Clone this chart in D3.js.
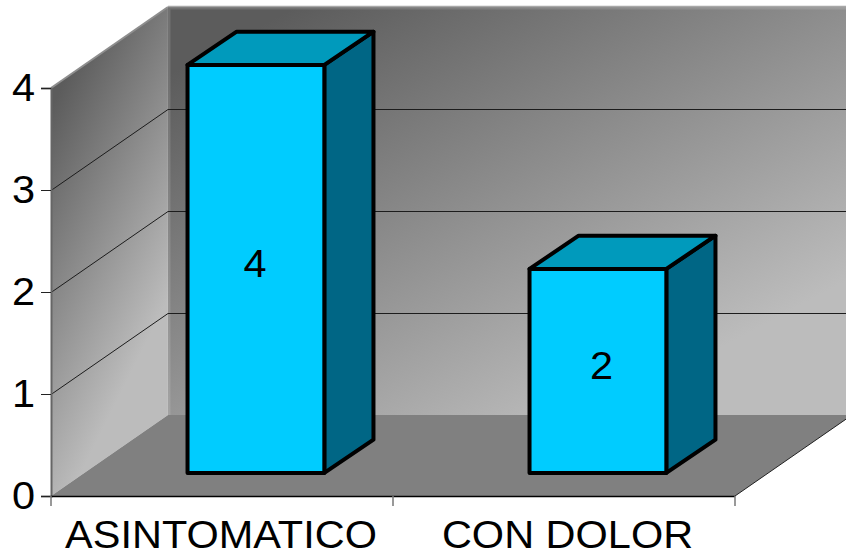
<!DOCTYPE html>
<html>
<head>
<meta charset="utf-8">
<script src="https://cdn.jsdelivr.net/npm/d3@7"></script>
<style>
html,body{margin:0;padding:0;background:#fff;overflow:hidden}
svg{display:block}
text{font-family:"Liberation Sans",Arial,sans-serif;fill:#000}
</style>
</head>
<body>
<svg id="chart" width="846" height="560"></svg>
<script>
const categories = ["ASINTOMATICO", "CON DOLOR"];
const values = [4, 2];
const yTicks = [0, 1, 2, 3, 4];

const svg = d3.select("#chart");
const width = 846, height = 560;

// Front plane of the 3D box and the shift applied to reach its back plane
const plotLeft = 51, plotRight = 735, plotBottom = 496, plotTop = 88;
const depthX = 117, depthY = -81;

const x = d3.scaleBand().domain(categories).range([plotLeft, plotRight]).paddingInner(0).paddingOuter(0);
const y = d3.scaleLinear().domain([0, 4]).range([plotBottom, plotTop]);
const depth = d3.scaleLinear().domain([0, 1]).range([0, 1]);
const barWidthShare = 0.4;
const barDepth = [0.29, 0.71];
const barRise = [0.285, 0.695];

// Text is drawn a little wider than the regular face
const fontSize = 39.5, textStretch = 1.05;
const labelNudge = [-1, 3.5];
const stretchText = sel => sel.each(function () {
  this.setAttribute("textLength", this.getComputedTextLength() * textStretch);
  this.setAttribute("lengthAdjust", "spacingAndGlyphs");
});

// Oblique projection: plot position plus a fraction of the box depth
const px = (vx, d) => vx + depth(d) * depthX;
const py = (vy, d) => vy + depth(d) * depthY;
const poly = pts => pts.map(p => p.join(",")).join(" ");

const defs = svg.append("defs");
function gradient(id, coords, stops) {
  const g = defs.append("linearGradient").attr("id", id).attr("gradientUnits", "userSpaceOnUse")
    .attr("x1", coords[0]).attr("y1", coords[1]).attr("x2", coords[2]).attr("y2", coords[3]);
  stops.forEach(s => g.append("stop").attr("offset", s[0]).attr("stop-color", s[1]));
}
gradient("backWall", [290, 10, 525, 452], [[0, "#5c5c5c"], [1, "#bcbcbc"]]);
gradient("sideWall", [55, 100, 225, 185], [[0, "#5c5c5c"], [1, "#bcbcbc"]]);

const x0 = plotLeft, x1 = plotRight, yb = y(0), yt = y(4);

// Side wall
svg.append("polygon")
  .attr("points", poly([[x0, yb], [x0, yt], [px(x0, 1), py(yt, 1)], [px(x0, 1), py(yb, 1)]]))
  .attr("fill", "url(#sideWall)");
svg.append("line")
  .attr("x1", x0).attr("y1", yt).attr("x2", px(x0, 1)).attr("y2", py(yt, 1))
  .attr("stroke", "#8e8e8e").attr("stroke-width", 2);

// Back wall with a slightly lighter rim along its top and left
svg.append("polygon")
  .attr("points", poly([[px(x0, 1), py(yt, 1)], [px(x1, 1), py(yt, 1)], [px(x1, 1), py(yb, 1)], [px(x0, 1), py(yb, 1)]]))
  .attr("fill", "url(#backWall)");
svg.append("path")
  .attr("d", `M${px(x0, 1) + 1},${py(yb, 1)}V${py(yt, 1) + 1}H${width}`)
  .attr("fill", "none").attr("stroke", "#fff").attr("stroke-opacity", 0.13).attr("stroke-width", 3);
svg.append("line")
  .attr("x1", px(x0, 1)).attr("y1", py(yt, 1) - 0.5).attr("x2", width).attr("y2", py(yt, 1) - 0.5)
  .attr("stroke", "#a8a8a8").attr("stroke-width", 1.5);

// Floor
svg.append("polygon")
  .attr("points", poly([[x0, yb], [x1, yb], [px(x1, 1), py(yb, 1)], [px(x0, 1), py(yb, 1)]]))
  .attr("fill", "#808080");

// Gridlines running along the side wall and across the back wall
const inner = yTicks.filter(t => t > 0 && t < 4);
svg.append("g").attr("transform", "translate(0,0.5)").selectAll("path").data(inner).join("path")
  .attr("d", t => `M${x0},${y(t)}L${px(x0, 1)},${py(y(t), 1)}H${px(x1, 1)}`)
  .attr("fill", "none").attr("stroke", "#1c1c1c").attr("stroke-width", 1);

// Floor edge on the open side
svg.append("line")
  .attr("x1", x1).attr("y1", yb).attr("x2", px(x1, 1)).attr("y2", py(yb, 1))
  .attr("stroke", "#222").attr("stroke-width", 1);

// Axes
const yAxis = svg.append("g").attr("transform", `translate(${x0},0)`)
  .call(d3.axisLeft(y).tickValues(yTicks).tickFormat(d3.format("d")).tickSize(10).tickPadding(6));
yAxis.select(".domain").attr("stroke", "#666").attr("stroke-width", 2);
yAxis.selectAll(".tick line").attr("stroke", "#222");
yAxis.selectAll("text").attr("font-size", fontSize).attr("font-family", '"Liberation Sans",Arial,sans-serif').call(stretchText);

const xBounds = [x0, x0 + x.step(), x1];
svg.append("line").attr("x1", x0).attr("x2", x1).attr("y1", yb + 0.5).attr("y2", yb + 0.5)
  .attr("stroke", "#000").attr("stroke-width", 1.5);
svg.append("g").selectAll("line").data(xBounds).join("line")
  .attr("x1", d => d).attr("x2", d => d).attr("y1", yb).attr("y2", yb + 10)
  .attr("stroke", "#777").attr("stroke-width", 1.5);

const xAxis = svg.append("g").attr("transform", `translate(0,${yb})`)
  .call(d3.axisBottom(x).tickSize(0).tickPadding(24));
xAxis.select(".domain").remove();
xAxis.selectAll("text").attr("font-size", fontSize).attr("font-family", '"Liberation Sans",Arial,sans-serif')
  .attr("dx", (d, i) => labelNudge[i]).call(stretchText);

// Bars: front, side and top faces
const bars = svg.append("g").selectAll("g").data(categories.map((c, i) => ({c, v: values[i], i}))).join("g");
const left = d => x(d.c) + x.bandwidth() * (1 - barWidthShare) / 2;
const right = d => left(d) + x.bandwidth() * barWidthShare;
const [dF, dB] = barDepth;
const [rF, rB] = barRise;
const strokeAttrs = s => s.attr("stroke", "#000").attr("stroke-width", 4).attr("stroke-linejoin", "round");

bars.append("polygon")
  .attr("points", d => poly([[px(right(d), dF), py(yb, rF)], [px(right(d), dB), py(yb, rB)], [px(right(d), dB), py(y(d.v), rB)], [px(right(d), dF), py(y(d.v), rF)]]))
  .attr("fill", "#006685").call(strokeAttrs);
bars.append("polygon")
  .attr("points", d => poly([[px(left(d), dF), py(y(d.v), rF)], [px(right(d), dF), py(y(d.v), rF)], [px(right(d), dB), py(y(d.v), rB)], [px(left(d), dB), py(y(d.v), rB)]]))
  .attr("fill", "#009abc").call(strokeAttrs);
bars.append("polygon")
  .attr("points", d => poly([[px(left(d), dF), py(yb, rF)], [px(right(d), dF), py(yb, rF)], [px(right(d), dF), py(y(d.v), rF)], [px(left(d), dF), py(y(d.v), rF)]]))
  .attr("fill", "#00ccff").call(strokeAttrs);

// Value labels centred on the front faces
bars.append("text")
  .attr("x", d => px((left(d) + right(d)) / 2, dF) + labelNudge[d.i])
  .attr("y", d => py((y(d.v) + yb) / 2, rF) - 5.5)
  .attr("dy", "0.35em")
  .attr("text-anchor", "middle").attr("font-size", fontSize)
  .text(d => d.v)
  .call(stretchText);
</script>
</body>
</html>
